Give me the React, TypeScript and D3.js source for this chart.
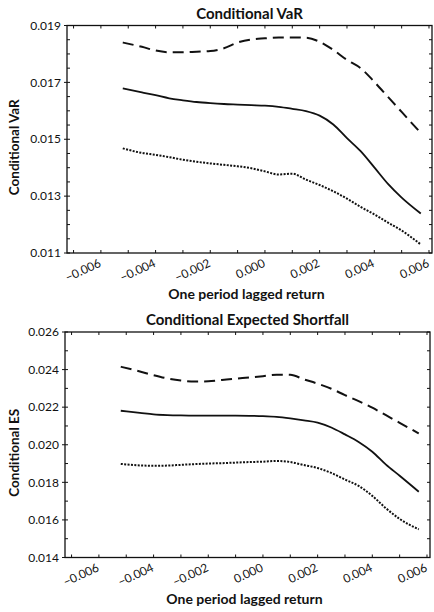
import React, { useEffect, useRef } from 'react';
import * as d3 from 'd3';

// one period lagged return (x grid)
const lagReturn = [
  -0.0052, -0.0045, -0.004, -0.0035, -0.003, -0.0025, -0.002, -0.0015, -0.001, -0.0005, 0,
  0.0005, 0.001, 0.0015, 0.002, 0.0025, 0.003, 0.0035, 0.004, 0.0045, 0.005, 0.0057,
];

// Conditional VaR
const varMid = [
  0.01679, 0.01665, 0.01655, 0.01644, 0.01637, 0.01631, 0.01627, 0.01624, 0.01622, 0.0162, 0.01618,
  0.01614, 0.01607, 0.01599, 0.01583, 0.01552, 0.01504, 0.01458, 0.01401, 0.01343, 0.01295, 0.01239,
];
const varUpper = [
  0.0184, 0.01825, 0.01812, 0.01806, 0.01806, 0.01808, 0.0181, 0.0182, 0.0184, 0.01851, 0.01855,
  0.01858, 0.01858, 0.01857, 0.01843, 0.01814, 0.01779, 0.0175, 0.01702, 0.01649, 0.01596, 0.01522,
];
const varLower = [
  0.01468, 0.01452, 0.01445, 0.01437, 0.01428, 0.01421, 0.01415, 0.0141, 0.01405, 0.01398, 0.01387,
  0.01376, 0.01379, 0.01358, 0.01339, 0.01317, 0.01291, 0.01262, 0.01236, 0.01207, 0.01179, 0.0113,
];

// Conditional Expected Shortfall
const esMid = [
  0.02181, 0.0217, 0.02162, 0.02158, 0.02156, 0.02155, 0.02155, 0.02155, 0.02155, 0.02154, 0.02152,
  0.02148, 0.0214, 0.0213, 0.02118, 0.02092, 0.02055, 0.02015, 0.01963, 0.01894, 0.01835, 0.0175,
];
const esUpper = [
  0.02415, 0.0239, 0.0237, 0.02353, 0.02342, 0.02336, 0.02338, 0.02345, 0.02352, 0.02358, 0.02365,
  0.02373, 0.02372, 0.02348, 0.02325, 0.02298, 0.02264, 0.02232, 0.02197, 0.02157, 0.02117, 0.0206,
];
const esLower = [
  0.01898, 0.0189, 0.01888, 0.01889, 0.01893, 0.01897, 0.019, 0.01902, 0.01905, 0.01908, 0.0191,
  0.01914, 0.01908, 0.01892, 0.01876, 0.0185, 0.01815, 0.01781, 0.01728, 0.01662, 0.01605, 0.0155,
];

const xTicks = [-0.006, -0.004, -0.002, 0, 0.002, 0.004, 0.006];
const varTicks = [0.011, 0.013, 0.015, 0.017, 0.019];
const esTicks = [0.014, 0.016, 0.018, 0.02, 0.022, 0.024, 0.026];

const FONT = 'Lato, "DejaVu Sans", sans-serif';

const drawPanel = (svg, cfg) => {
  const { left, right, top, bottom, title, yLabel, yDomain, yTicks, yMinor, series } = cfg;

  const x = d3.scaleLinear().domain([-0.00724, 0.00611]).range([left, right]);
  const y = d3.scaleLinear().domain(yDomain).range([bottom, top]);

  const g = svg.append('g');

  // Frame
  g.append('rect')
    .attr('x', left)
    .attr('y', top)
    .attr('width', right - left)
    .attr('height', bottom - top)
    .attr('fill', 'none')
    .attr('stroke', '#111')
    .attr('stroke-width', 1.3);

  // Minor ticks on x (top and bottom, inward)
  const xMinor = d3.range(-7, 7).map((i) => i * 0.001).filter((v) => v > x.domain()[0] && v < x.domain()[1]);
  xMinor.forEach((v) => {
    g.append('line').attr('x1', x(v)).attr('x2', x(v)).attr('y1', bottom).attr('y2', bottom - 3).attr('stroke', '#111');
    g.append('line').attr('x1', x(v)).attr('x2', x(v)).attr('y1', top).attr('y2', top + 3).attr('stroke', '#111');
  });

  // y ticks on both sides
  const yAll = d3.range(yDomain[0], yDomain[1] + 1e-9, yMinor);
  yAll.forEach((v) => {
    g.append('line').attr('x1', left).attr('x2', left + 3).attr('y1', y(v)).attr('y2', y(v)).attr('stroke', '#111');
    g.append('line').attr('x1', right).attr('x2', right - 3).attr('y1', y(v)).attr('y2', y(v)).attr('stroke', '#111');
  });
  yTicks.forEach((v) => {
    g.append('line').attr('x1', left - 3).attr('x2', left).attr('y1', y(v)).attr('y2', y(v)).attr('stroke', '#111');
  });

  // y tick labels
  g.selectAll('text.ytick')
    .data(yTicks)
    .join('text')
    .attr('class', 'ytick')
    .attr('x', left - 6)
    .attr('y', (d) => y(d))
    .attr('dy', '0.35em')
    .attr('text-anchor', 'end')
    .style('font-family', FONT)
    .style('font-size', '12px')
    .style('fill', '#111')
    .text((d) => d3.format('.3f')(d));

  // x tick labels, rotated
  g.selectAll('text.xtick')
    .data(xTicks)
    .join('text')
    .attr('class', 'xtick')
    .attr('transform', (d) => `translate(${x(d) + 1},${bottom + 13}) rotate(-25)`)
    .attr('text-anchor', 'end')
    .style('font-family', FONT)
    .style('font-size', '12px')
    .style('fill', '#111')
    .text((d) => d3.format('.3f')(d));

  // Title
  g.append('text')
    .attr('x', (left + right) / 2)
    .attr('y', top - 7)
    .attr('text-anchor', 'middle')
    .style('font-family', FONT)
    .style('font-size', '15px')
    .style('font-weight', 'bold')
    .style('fill', '#111')
    .text(title);

  // x axis title
  g.append('text')
    .attr('x', (left + right) / 2 - 3)
    .attr('y', bottom + 46)
    .attr('text-anchor', 'middle')
    .style('font-family', FONT)
    .style('font-size', '14px')
    .style('font-weight', 'bold')
    .style('fill', '#111')
    .text('One period lagged return');

  // y axis title
  g.append('text')
    .attr('transform', `translate(19,${(top + bottom) / 2 + 8}) rotate(-90)`)
    .attr('text-anchor', 'middle')
    .style('font-family', FONT)
    .style('font-size', '13.5px')
    .style('font-weight', 'bold')
    .style('fill', '#111')
    .text(yLabel);

  const line = d3
    .line()
    .x((d) => x(d[0]))
    .y((d) => y(d[1]))
    .curve(d3.curveMonotoneX);

  series.forEach((s) => {
    g.append('path')
      .attr('d', line(lagReturn.map((v, i) => [v, s.values[i]])))
      .attr('fill', 'none')
      .attr('stroke', '#111')
      .attr('stroke-width', s.width)
      .attr('stroke-dasharray', s.dash);
  });
};

const App = () => {
  const svgRef = useRef();

  useEffect(() => {
    const width = 434;
    const height = 612;

    d3.select(svgRef.current).selectAll('*').remove();

    const svg = d3
      .select(svgRef.current)
      .attr('width', width)
      .attr('height', height)
      .style('position', 'absolute')
      .style('left', 0)
      .style('top', 0)
      .style('background', '#fff');

    drawPanel(svg, {
      left: 67,
      right: 432,
      top: 25.5,
      bottom: 253,
      title: 'Conditional VaR',
      yLabel: 'Conditional VaR',
      yDomain: [0.011, 0.019],
      yTicks: varTicks,
      yMinor: 0.0005,
      series: [
        { values: varUpper, width: 2, dash: '11,6' },
        { values: varMid, width: 1.8, dash: null },
        { values: varLower, width: 2, dash: '2,1.4' },
      ],
    });

    drawPanel(svg, {
      left: 65,
      right: 430,
      top: 332,
      bottom: 557.5,
      title: 'Conditional Expected Shortfall',
      yLabel: 'Conditional ES',
      yDomain: [0.014, 0.026],
      yTicks: esTicks,
      yMinor: 0.001,
      series: [
        { values: esUpper, width: 2, dash: '11,6' },
        { values: esMid, width: 1.8, dash: null },
        { values: esLower, width: 2, dash: '2,1.4' },
      ],
    });
  }, []);

  return <svg ref={svgRef}></svg>;
};

export default App;
